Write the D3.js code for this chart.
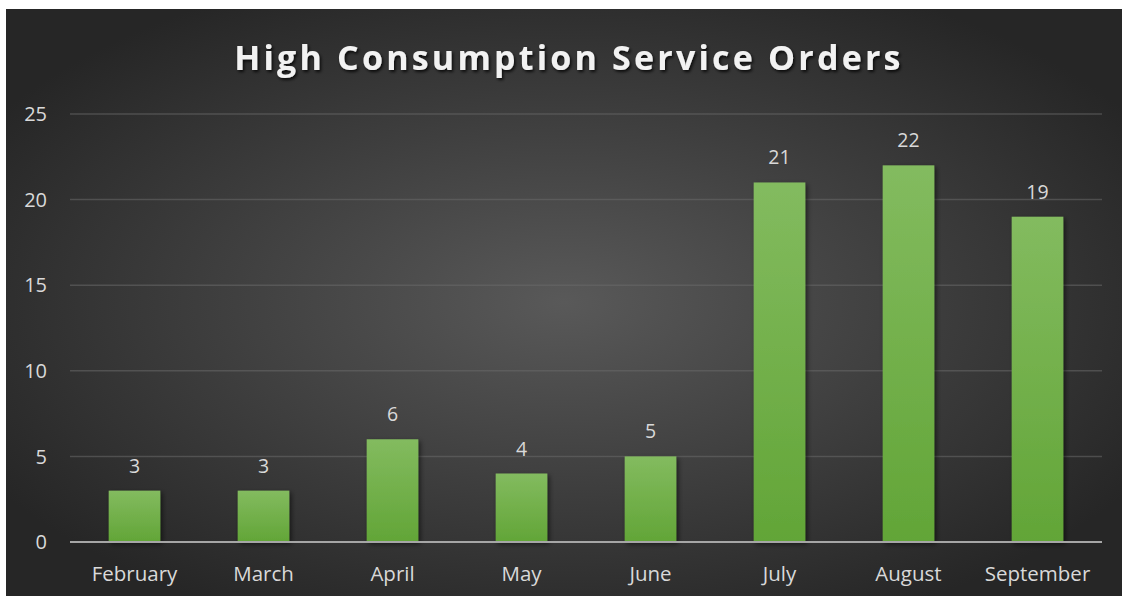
<!DOCTYPE html>
<html>
<head>
<meta charset="utf-8">
<script src="https://cdn.jsdelivr.net/npm/d3@7"></script>
<style>
  html, body { margin: 0; padding: 0; background: #ffffff; }
  svg { display: block; }
</style>
</head>
<body>
<svg id="chart"></svg>
<script>
let width = 1122, height = 598;

// chart data
const months = ["February", "March", "April", "May", "June", "July", "August", "September"];
const orders = [3, 3, 6, 4, 5, 21, 22, 19];
const yTicks = [0, 5, 10, 15, 20, 25];
const chartTitle = "High Consumption Service Orders";

let svg = d3.select("#chart")
    .attr("width", width)
    .attr("height", height)
    .attr("viewBox", "0 0 " + width + " " + height);

let defs = svg.append("defs");

// background radial gradient
let bg = defs.append("radialGradient")
    .attr("id", "bgGrad")
    .attr("cx", "50%").attr("cy", "50%").attr("r", "60%");
bg.append("stop").attr("offset", "0%").attr("stop-color", "#595959");
bg.append("stop").attr("offset", "100%").attr("stop-color", "#262626");

// bar gradient
let barGrad = defs.append("linearGradient")
    .attr("id", "barGrad")
    .attr("x1", 0).attr("y1", 0).attr("x2", 0).attr("y2", 1);
barGrad.append("stop").attr("offset", "0%").attr("stop-color", "#83bb5f");
barGrad.append("stop").attr("offset", "100%").attr("stop-color", "#62a537");

// shadows
let barShadow = defs.append("filter").attr("id", "barShadow")
    .attr("x", "-20%").attr("y", "-20%").attr("width", "150%").attr("height", "150%");
barShadow.append("feDropShadow")
    .attr("dx", 2).attr("dy", 2).attr("stdDeviation", 2.5)
    .attr("flood-color", "#000").attr("flood-opacity", 0.55);

let textShadow = defs.append("filter").attr("id", "textShadow")
    .attr("x", "-10%").attr("y", "-30%").attr("width", "120%").attr("height", "160%");
textShadow.append("feDropShadow")
    .attr("dx", 1.5).attr("dy", 2).attr("stdDeviation", 1.5)
    .attr("flood-color", "#000").attr("flood-opacity", 0.8);

// chart area
svg.append("rect")
    .attr("x", 6).attr("y", 9)
    .attr("width", width - 6).attr("height", height - 11)
    .attr("fill", "url(#bgGrad)");

let margin = {left: 70, right: 20, top: 114, bottom: 56};

let x = d3.scaleBand()
    .domain(months)
    .range([margin.left, width - margin.right])
    .paddingInner(0.6)
    .paddingOuter(0.3);

let y = d3.scaleLinear()
    .domain([0, 25])
    .range([height - margin.bottom, margin.top]);

// gridlines
svg.append("g")
    .selectAll("line")
    .data(yTicks.filter(d => d > 0))
    .enter()
    .append("line")
    .attr("x1", margin.left)
    .attr("x2", width - margin.right)
    .attr("y1", d => y(d))
    .attr("y2", d => y(d))
    .attr("stroke", "#6a6a6a")
    .attr("stroke-opacity", 0.55)
    .attr("stroke-width", 1.5);

// y axis labels
svg.append("g")
    .selectAll("text")
    .data(yTicks)
    .enter()
    .append("text")
    .attr("x", 47)
    .attr("y", d => y(d))
    .attr("dy", "0.36em")
    .attr("text-anchor", "end")
    .attr("font-family", "'Open Sans', sans-serif")
    .attr("font-size", 20)
    .attr("fill", "#d9d9d9")
    .text(d => d);

// bars
svg.append("g")
    .selectAll("rect")
    .data(orders)
    .enter()
    .append("rect")
    .attr("x", (d, i) => x(months[i]))
    .attr("y", d => y(d))
    .attr("width", x.bandwidth())
    .attr("height", d => y(0) - y(d))
    .attr("fill", "url(#barGrad)")
    .attr("filter", "url(#barShadow)");

// baseline
svg.append("line")
    .attr("x1", margin.left)
    .attr("x2", width - margin.right)
    .attr("y1", y(0))
    .attr("y2", y(0))
    .attr("stroke", "#a6a6a6")
    .attr("stroke-width", 2);

// value labels
svg.append("g")
    .selectAll("text")
    .data(orders)
    .enter()
    .append("text")
    .attr("x", (d, i) => x(months[i]) + x.bandwidth() / 2)
    .attr("y", d => y(d) - 18)
    .attr("text-anchor", "middle")
    .attr("font-family", "'Open Sans', sans-serif")
    .attr("font-size", 19.5)
    .attr("fill", "#d9d9d9")
    .text(d => d);

// category labels
svg.append("g")
    .selectAll("text")
    .data(months)
    .enter()
    .append("text")
    .attr("x", d => x(d) + x.bandwidth() / 2)
    .attr("y", y(0) + 39)
    .attr("text-anchor", "middle")
    .attr("font-family", "'Open Sans', sans-serif")
    .attr("font-size", 20.5)
    .attr("fill", "#d9d9d9")
    .text(d => d);

// title
svg.append("text")
    .attr("x", 569)
    .attr("y", 70)
    .attr("text-anchor", "middle")
    .attr("font-family", "'Open Sans', sans-serif")
    .attr("font-weight", "bold")
    .attr("font-size", 34)
    .attr("letter-spacing", 3.2)
    .attr("fill", "#f2f2f2")
    .attr("filter", "url(#textShadow)")
    .text(chartTitle);
</script>
</body>
</html>
